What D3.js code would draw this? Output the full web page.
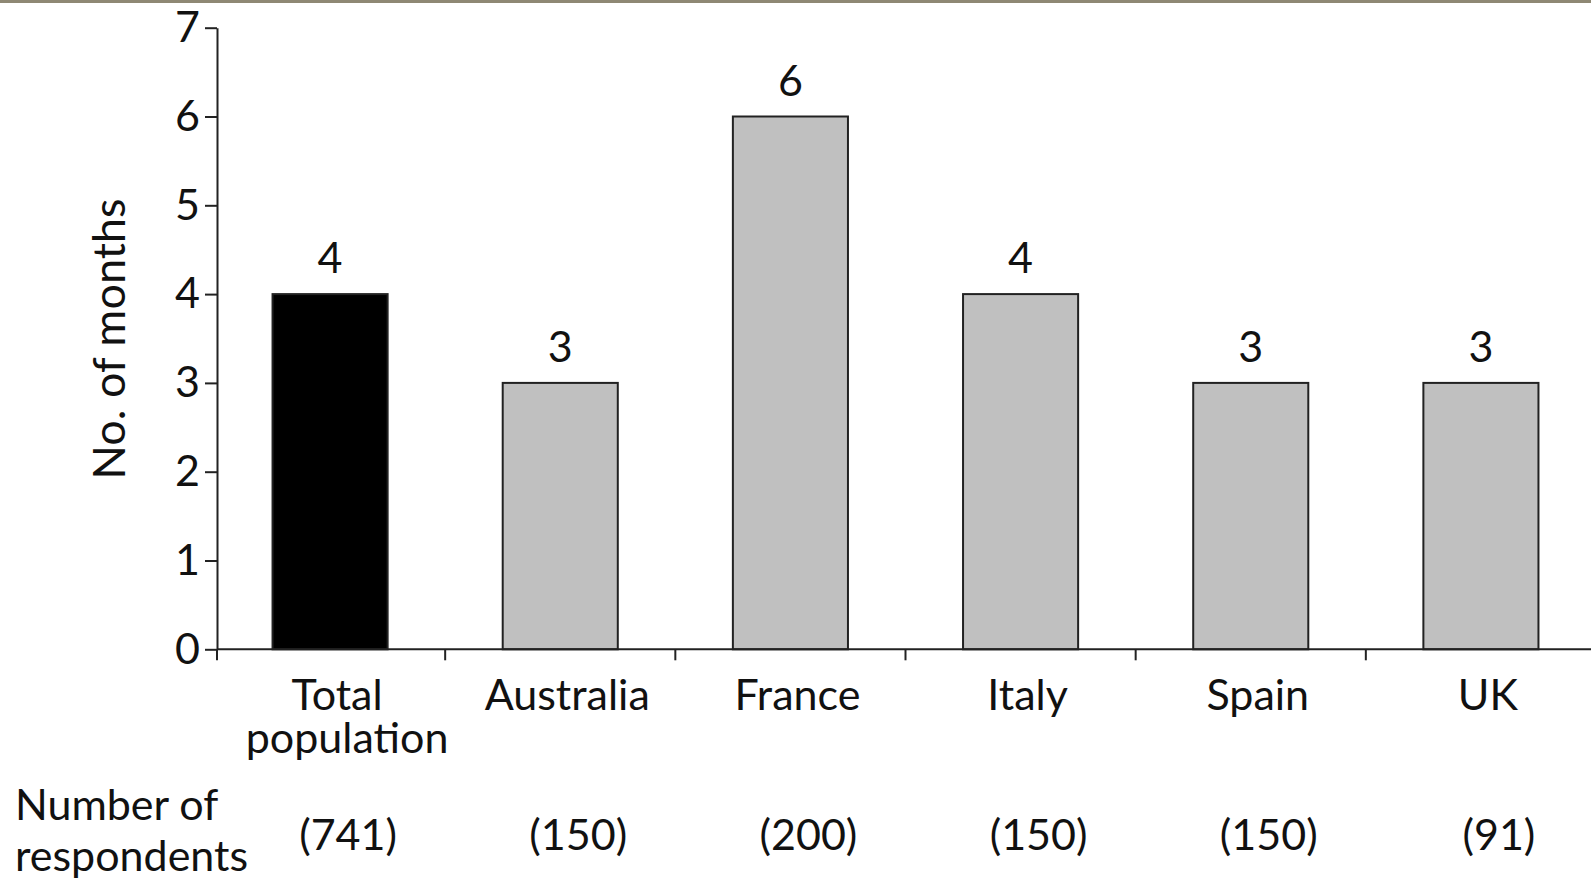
<!DOCTYPE html>
<html>
<head>
<meta charset="utf-8">
<script src="https://cdn.jsdelivr.net/npm/d3@7"></script>
<style>
  html, body { margin: 0; padding: 0; background: #fff; }
  svg { display: block; }
  text { font-family: Lato, "Open Sans", sans-serif; fill: #111; }
</style>
</head>
<body>
<svg id="chart" width="1591" height="883"></svg>
<script>
// Median time in months, by country
const categories = ["Total population", "Australia", "France", "Italy", "Spain", "UK"];
const months = [4, 3, 6, 4, 3, 3];
const respondents = [741, 150, 200, 150, 150, 91];
const yTicks = [0, 1, 2, 3, 4, 5, 6, 7];
const yLabel = "No. of months";
const rowLabel = ["Number of", "respondents"];

const W = 1591, H = 883;
const svg = d3.select("#chart");

// thin rule along the top edge
svg.append("rect").attr("x", 0).attr("y", 0).attr("width", W).attr("height", 3).attr("fill", "#8e8874");

const axisX = 217, x0 = 215, x1 = 1596, yTop = 27.7, yBase = 649.3;

const x = d3.scaleBand().domain(categories).range([x0, x1]).paddingInner(0.5).paddingOuter(0.25);
const y = d3.scaleLinear().domain([0, 7]).range([yBase, yTop]);

const fontSize = 43;
const axisColor = "#222";

// y axis
const yAxis = svg.append("g").attr("transform", `translate(${axisX},0)`)
  .call(d3.axisLeft(y).tickValues(yTicks).tickFormat(d3.format("d")).tickSize(12).tickPadding(5).tickSizeOuter(0));
yAxis.select(".domain").attr("stroke", axisColor).attr("stroke-width", 2);
yAxis.selectAll(".tick line").attr("stroke", axisColor).attr("stroke-width", 2);
yAxis.selectAll(".tick text").attr("font-size", fontSize).attr("font-family", "Lato, sans-serif").attr("fill", "#111");

// y axis title
svg.append("text")
  .attr("transform", `translate(125,339) rotate(-90)`)
  .attr("text-anchor", "middle")
  .attr("font-size", 45)
  .text(yLabel);

// bars
svg.append("g").selectAll("rect").data(categories).join("rect")
  .attr("x", d => x(d))
  .attr("y", (d, i) => y(months[i]))
  .attr("width", x.bandwidth())
  .attr("height", (d, i) => y(0) - y(months[i]))
  .attr("fill", (d, i) => i === 0 ? "#000" : "#c0c0c0")
  .attr("stroke", axisColor)
  .attr("stroke-width", 2);

// value labels
svg.append("g").selectAll("text").data(categories).join("text")
  .attr("x", d => x(d) + x.bandwidth() / 2)
  .attr("y", (d, i) => y(months[i]) - 21)
  .attr("text-anchor", "middle")
  .attr("font-size", fontSize)
  .text((d, i) => months[i]);

// x baseline with category boundary ticks
const step = x.step();
svg.append("line").attr("x1", axisX).attr("x2", W).attr("y1", yBase).attr("y2", yBase)
  .attr("stroke", axisColor).attr("stroke-width", 2);
svg.append("g").selectAll("line").data(categories).join("line")
  .attr("x1", (d, i) => i === 0 ? axisX : x(d) - step * 0.25)
  .attr("x2", (d, i) => i === 0 ? axisX : x(d) - step * 0.25)
  .attr("y1", yBase).attr("y2", yBase + 11)
  .attr("stroke", axisColor).attr("stroke-width", 2);

// category labels (the first one wraps onto two lines)
svg.append("g").selectAll("text").data(categories).join("text")
  .attr("y", 710)
  .attr("text-anchor", "middle")
  .attr("font-size", fontSize)
  .each(function (c, i) {
    const cx = x(c) + x.bandwidth() / 2 + 7;
    const words = i === 0 ? ["Total", "population"] : [c];
    d3.select(this).selectAll("tspan").data(words).join("tspan")
      .attr("x", (w, j) => cx + (j === 1 ? 10 : 0))
      .attr("dy", (w, j) => j === 0 ? 0 : 43)
      .text(w => w);
  });

// respondents row
svg.append("text").attr("y", 820).attr("font-size", fontSize)
  .selectAll("tspan").data(rowLabel).join("tspan")
  .attr("x", 15)
  .attr("dy", (t, j) => j === 0 ? 0 : 51)
  .text(t => t);
svg.append("g").selectAll("text").data(categories).join("text")
  .attr("x", d => x(d) + x.bandwidth() / 2 + 18)
  .attr("y", 850)
  .attr("text-anchor", "middle")
  .attr("font-size", fontSize)
  .text((d, i) => `(${respondents[i]})`);
</script>
</body>
</html>
